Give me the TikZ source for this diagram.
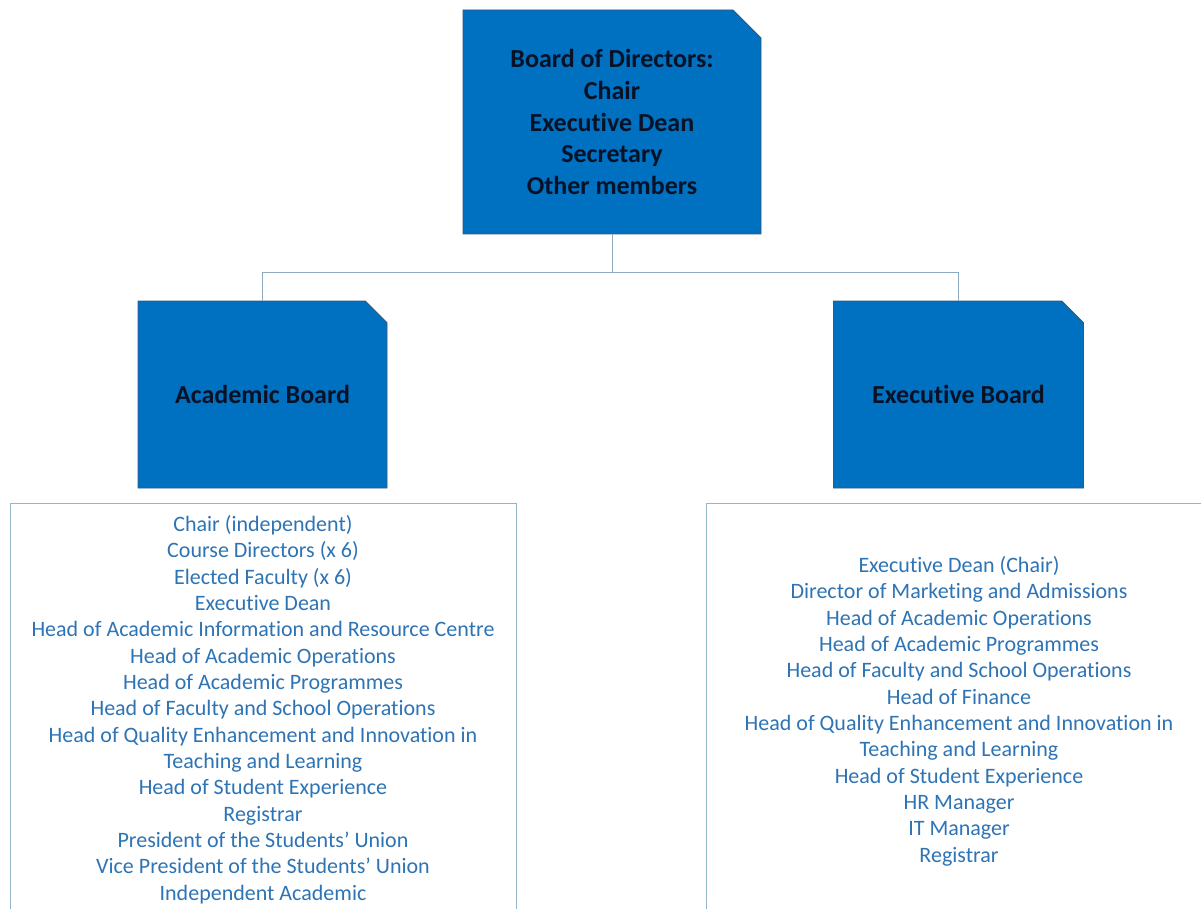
\documentclass[tikz,border=0pt]{standalone}
\usepackage{fontspec}
\setmainfont{Carlito}[Ligatures=NoCommon]
\usetikzlibrary{shapes.misc}
\definecolor{boxblue}{HTML}{0070C0}
\definecolor{boxedge}{HTML}{2F5A80}
\definecolor{conn}{HTML}{8EAAC2}
\definecolor{listblue}{HTML}{2E74B5}
\definecolor{listedge}{HTML}{92B5CA}
\definecolor{darktext}{HTML}{081226}
\tikzset{
  board/.style={chamfered rectangle, chamfered rectangle corners=north east,
    fill=boxblue, draw=boxedge, line width=0.8pt, inner sep=0pt,
    font=\fontsize{26}{31.6}\selectfont\bfseries, text=darktext, align=center},
  listbox/.style={rectangle, draw=listedge, line width=1pt, inner sep=0pt},
  listtext/.style={inner sep=0pt, align=center, text=listblue,
    font=\fontsize{22}{26.35}\selectfont},
  connector/.style={draw=conn, line width=1pt}
}
\begin{document}
\begin{tikzpicture}[x=1pt,y=-1pt]
\useasboundingbox (0,0) rectangle (1201,909);
\clip (0,0) rectangle (1201,909);
\fill[white] (0,0) rectangle (1201,909);
\node[board, minimum width=298pt, minimum height=224pt, chamfered rectangle sep=14pt] (top) at (612,122) {Board of Directors:\\Chair\\Executive Dean\\Secretary\\Other members};
\node[board, minimum width=249pt, minimum height=187pt, chamfered rectangle sep=12.5pt] (acad) at (262.5,394.5) {Academic Board};
\node[board, minimum width=250pt, minimum height=187pt, chamfered rectangle sep=12.5pt] (exec) at (958.5,394.5) {Executive Board};
\coordinate (j) at (612,272);
\draw[connector] (top.south) -- (j);
\draw[connector] (j) -| (acad.north);
\draw[connector] (j) -| (exec.north);
\node[listbox, minimum width=506pt, minimum height=430pt, anchor=north] (acadlist) at (263,503) {};
\node[listbox, minimum width=520pt, minimum height=430pt, anchor=north west] (execlist) at (706,503) {};
\node[listtext, anchor=north] (acadtext) at (263,515) {Chair (independent)\\Course Directors (x 6)\\Elected Faculty (x 6)\\Executive Dean\\Head of Academic Information and Resource Centre\\Head of Academic Operations\\Head of Academic Programmes\\Head of Faculty and School Operations\\Head of Quality Enhancement and Innovation in\\Teaching and Learning\\Head of Student Experience\\Registrar\\President of the Students’ Union\\Vice President of the Students’ Union\\Independent Academic};
\node[listtext, anchor=north] (exectext) at (959,556) {Executive Dean (Chair)\\Director of Marketing and Admissions\\Head of Academic Operations\\Head of Academic Programmes\\Head of Faculty and School Operations\\Head of Finance\\Head of Quality Enhancement and Innovation in\\Teaching and Learning\\Head of Student Experience\\HR Manager\\IT Manager\\Registrar};
\end{tikzpicture}
\end{document}
